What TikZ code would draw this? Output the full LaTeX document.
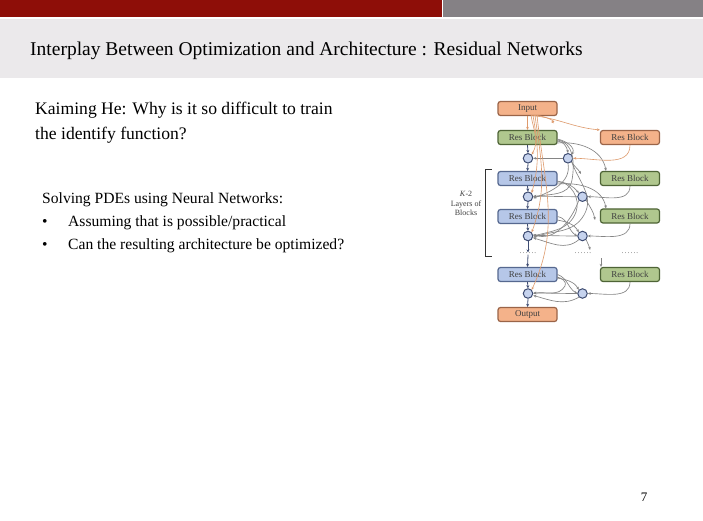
\documentclass[tikz,border=0pt]{standalone}
\usepackage{fontspec}
\setmainfont{Liberation Serif}
\usetikzlibrary{arrows.meta}
\definecolor{hdrred}{HTML}{8E0E08}
\definecolor{hdrgray}{HTML}{858185}
\definecolor{band}{HTML}{EBE9EB}
\definecolor{orfill}{HTML}{F4B28A}
\definecolor{ordraw}{HTML}{9A6448}
\definecolor{grfill}{HTML}{B0C78E}
\definecolor{grdraw}{HTML}{4E6436}
\definecolor{blfill}{HTML}{B6C7E8}
\definecolor{bldraw}{HTML}{56688F}
\definecolor{cifill}{HTML}{C6D3EE}
\definecolor{cidraw}{HTML}{3E4C72}
\definecolor{edge}{HTML}{858585}
\definecolor{oredge}{HTML}{DE9A6C}
\tikzset{
  blk/.style={rounded corners=2.5pt, line width=1.2pt, minimum width=59pt, minimum height=14pt, inner sep=0pt, font=\fontsize{9}{9}\selectfont, text=black!75},
  oblk/.style={blk, fill=orfill, draw=ordraw},
  gblk/.style={blk, fill=grfill, draw=grdraw},
  bblk/.style={blk, fill=blfill, draw=bldraw},
  sumc/.style={circle, minimum size=9.5pt, inner sep=0pt, fill=cifill, draw=cidraw, line width=1pt},
  con/.style={draw=edge, line width=0.65pt, -{Stealth[length=3pt,width=2.6pt]}},
  ocon/.style={draw=oredge, line width=0.6pt, -{Stealth[length=3pt,width=2.6pt]}},
  dcon/.style={draw=cidraw, line width=0.8pt, -{Stealth[length=3pt,width=3pt]}},
  dots/.style={font=\fontsize{7}{7}\selectfont, text=black!70, inner sep=0.5pt},
  txtA/.style={anchor=base west, inner sep=0pt, font=\fontsize{17.6}{20}\selectfont},
  txtB/.style={anchor=base west, inner sep=0pt, font=\fontsize{15.6}{18}\selectfont}
}
\begin{document}
\begin{tikzpicture}[x=1pt,y=-1pt]
\useasboundingbox (0,0) rectangle (703,521);
\fill[white] (0,0) rectangle (703,521);
\fill[hdrred] (0,0) rectangle (442,17);
\fill[hdrgray] (443,0) rectangle (703,17);
\fill[band] (0,19) rectangle (703,78);
\node[anchor=base west, inner sep=0pt, font=\fontsize{19.5}{22}\selectfont] (title) at (30,55.5) {Interplay Between Optimization and Architecture : Residual Networks};

\node[txtA] (k1) at (35,114.5) {Kaiming He: Why is it so difficult to train};
\node[txtA] (k2) at (35,140) {the identify function?};
\node[txtB] (s0) at (42,204) {Solving PDEs using Neural Networks:};
\node[txtB] (b1) at (42,226) {\textbullet};
\node[txtB] (s1) at (68,226) {Assuming that is possible/practical};
\node[txtB] (b2) at (42,249) {\textbullet};
\node[txtB] (s2) at (68,249) {Can the resulting architecture be optimized?};
\node[anchor=base, inner sep=0pt, font=\fontsize{13}{13}\selectfont] (pg) at (644,501) {7};

% diagram
\node[oblk] (in) at (527.5,108.5) {Input};
\node[gblk] (L1) at (527.5,137.5) {Res Block};
\node[oblk] (R1) at (630,137.5) {Res Block};
\node[sumc] (A1) at (528,158.3) {};
\node[sumc] (B1) at (568,158.3) {};
\node[bblk] (L2) at (527.5,178.5) {Res Block};
\node[gblk] (R2) at (630,178.5) {Res Block};
\node[sumc] (A2) at (528,196.7) {};
\node[sumc] (B2) at (582.5,196.7) {};
\node[bblk] (L3) at (527.5,216.5) {Res Block};
\node[gblk] (R3) at (630,216) {Res Block};
\node[sumc] (A3) at (528,236) {};
\node[sumc] (B3) at (582.5,236) {};
\node[dots] (d1) at (528,253.5) {.\,.\,.\,.\,.\,.};
\node[dots] (d2) at (583,253.5) {.\,.\,.\,.\,.\,.};
\node[dots] (d3) at (630,253.5) {.\,.\,.\,.\,.\,.};
\node[bblk] (L4) at (527.5,274.5) {Res Block};
\node[gblk] (R4) at (630,274.5) {Res Block};
\node[sumc] (A4) at (528,293.5) {};
\node[sumc] (B4) at (582.5,293.5) {};
\node[oblk] (out) at (527.5,314.5) {Output};

% bracket and label
\draw[black!80, line width=0.8pt] (491.7,169) -- (485.7,169) -- (485.7,256) -- (491.7,256);
\node[align=center, inner sep=0pt, font=\fontsize{8}{9.5}\selectfont, text=black!75] (klab) at (466,203.5) {\textit{K}-2\\Layers of\\Blocks};

% gray skip curves (behind)
\coordinate (L1o) at (557,141);
\coordinate (L2o) at (557,182);
\coordinate (L3o) at (557,220);
\coordinate (L4o) at (557,278);
% L_k -> B_k
\draw[con] (L1o) to[out=0,in=100] (B1.north);
\draw[con] ([yshift=2pt]L1o) to[out=-10,in=60] (B1.north east);
\draw[con] (L2o) to[out=0,in=130] (B2.north west);
\draw[con] (L3o) to[out=-10,in=120] (B3.north west);
\draw[con] (L4o) to[out=-10,in=120] (B4.north west);
% L_k -> R_{k+1}
\draw[con] ([yshift=-2pt]L1o) to[out=5,in=100] ([xshift=-24pt]R2.north);
\draw[con] ([yshift=-2pt]L2o) to[out=5,in=100] ([xshift=-24pt]R3.north);
\coordinate (L3cut) at (601,258);
\draw[con] (L3cut) -- ([xshift=-29pt]R4.north);
% L_k -> A_{k+1} (skip)
\draw[con] ([yshift=1pt]L1o) to[out=-5,in=80] (572,180) to[out=-100,in=10] (A2.east);
\draw[con] ([yshift=1pt]L2o) to[out=-5,in=70] (576,212) to[out=-110,in=15] (A3.east);
\draw[con] ([yshift=1pt]L4o) to[out=-10,in=60] (565,286) to[out=-120,in=10] (A4.east);
% further long skip curves
\draw[con] (B1.south east) to[out=-70,in=60] (584,215) to[out=-120,in=20] ([yshift=-1.5pt]A3.east);
\draw[con] (B1.south) to[out=-80,in=20] ([yshift=-1.5pt]A2.east);
\draw[con] (B2.south west) to[out=-110,in=-20] ([yshift=1.5pt]A3.east);
\draw[con] (B3.south west) to[out=-140,in=-15] ([yshift=-2pt]A3.east);
\draw[con] (B4.south west) to[out=-150,in=-15] ([yshift=-2pt]A4.east);
\draw[con] (B1.south east) to[out=-60,in=120] (581,174);
\draw[con] (B2.south east) to[out=-60,in=100] (595,220);
\draw[con] (B3.south east) to[out=-70,in=100] (590,250);
\draw[con] (L3.east) to[out=-10,in=150] (B3.west);
\draw[con] (L4.east) to[out=-20,in=150] (B4.west);

% R_k -> B_k
\draw[ocon] (R1.south) to[out=-90,in=0] (B1.east);
\draw[con] (R2.south) to[out=-90,in=0] (B2.east);
\draw[con] (R3.south) to[out=-90,in=0] (B3.east);
\draw[con] (R4.south) to[out=-90,in=0] (B4.east);

% B_k -> A_k
\draw[con] (B1.west) -- (A1.east);
\draw[con] (B2.west) to[out=180,in=0] ([yshift=0.5pt]A2.east);
\draw[con] (B3.west) to[out=180,in=0] ([yshift=0.5pt]A3.east);
\draw[con] (B4.west) to[out=180,in=0] ([yshift=0.5pt]A4.east);

% orange lines from input
\coordinate (inb) at (531,115.5);
\draw[ocon] (in.south) -- (L1.north);
\draw[ocon] (inb) to[out=-5,in=175] (R1.north west);
\draw[ocon] (inb) to[out=-80,in=60] (A1.north east);
\draw[ocon] ([xshift=2pt]inb) to[out=-80,in=75] (A2.north east);
\draw[ocon] ([xshift=4pt]inb) to[out=-82,in=70] (A3.north east);
\draw[ocon] ([xshift=6pt]inb) to[out=-84,in=65] (A4.north east);
\draw[ocon] ([xshift=3pt]inb) to[out=10,in=0] (551,122);

% main vertical path
\draw[dcon] (L1.south) -- (A1.north);
\draw[dcon] (A1.south) -- (L2.north);
\draw[dcon] (L2.south) -- (A2.north);
\draw[dcon] (A2.south) -- (L3.north);
\draw[dcon] (L3.south) -- (A3.north);
\draw[dcon] (A3.south) -- (d1.north);
\draw[dcon] (d1.south) -- (L4.north);
\draw[dcon] (L4.south) -- (A4.north);
\draw[dcon] (A4.south) -- (out.north);
\end{tikzpicture}
\end{document}
